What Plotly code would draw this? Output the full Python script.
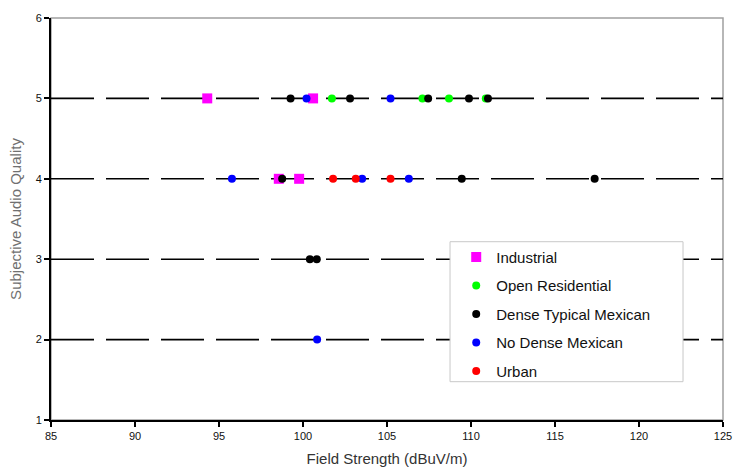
import plotly.graph_objects as go

# Field strength (dBuV/m) and subjective audio quality score per environment
industrial_x = [94.30, 100.60, 98.56, 99.77]
industrial_y = [5, 5, 4, 4]

open_res_x = [101.72, 107.11, 108.69, 110.88]
open_res_y = [5, 5, 5, 5]

dense_x = [99.26, 102.80, 107.45, 109.88, 111.01, 98.76, 109.45, 117.36, 100.41, 100.82]
dense_y = [5, 5, 5, 5, 5, 4, 4, 4, 3, 3]

no_dense_x = [100.21, 105.21, 95.77, 103.52, 106.30, 100.84]
no_dense_y = [5, 5, 4, 4, 4, 2]

urban_x = [101.79, 103.14, 105.21]
urban_y = [4, 4, 4]

# Reference levels drawn as long-dash lines across the field-strength range
quality_levels = [2, 3, 4, 5]
field_range = [85, 125]

x_ticks = [85, 90, 95, 100, 105, 110, 115, 120, 125]
y_ticks = [1, 2, 3, 4, 5, 6]

FONT = "Liberation Sans, Arial, sans-serif"

fig = go.Figure()

for level in quality_levels:
    fig.add_trace(go.Scatter(
        x=field_range, y=[level, level], mode="lines",
        line=dict(color="black", width=1.6, dash="43px,12px"),
        showlegend=False, hoverinfo="skip",
    ))

series = [
    ("Industrial", industrial_x, industrial_y, "#FF00FF", "square", 10),
    ("Open Residential", open_res_x, open_res_y, "#00FF00", "circle", 8),
    ("Dense Typical Mexican", dense_x, dense_y, "#000000", "circle", 8),
    ("No Dense Mexican", no_dense_x, no_dense_y, "#0000FF", "circle", 8),
    ("Urban", urban_x, urban_y, "#FF0000", "circle", 8),
]
for name, xs, ys, color, symbol, size in series:
    fig.add_trace(go.Scatter(
        x=xs, y=ys, mode="markers", name=name, legendgroup=name,
        marker=dict(color=color, symbol=symbol, size=size, line=dict(width=0)),
    ))

fig.update_layout(
    width=736, height=470,
    margin=dict(l=51, r=13, t=18, b=50, autoexpand=False),
    paper_bgcolor="white", plot_bgcolor="white",
    font=dict(family=FONT, color="#111111", size=11),
    showlegend=True,
    legend=dict(
        x=0.6030, y=0.4460, xanchor="left", yanchor="top",
        bgcolor="rgba(0,0,0,0)", borderwidth=0,
        font=dict(family=FONT, size=15, color="#111111"),
        tracegroupgap=6,
    ),
    shapes=[
        # plot-area frame (top and right edges in grey)
        dict(type="rect", xref="paper", yref="paper", x0=0, x1=1, y0=0, y1=1,
             line=dict(color="#A0A0A0", width=1.5), layer="below"),
        # legend box
        dict(type="rect", xref="paper", yref="paper",
             x0=0.5938, x1=0.9405, y0=0.0953, y1=0.4435,
             line=dict(color="#C8C8C8", width=1), fillcolor="white", layer="above"),
    ],
)

fig.update_xaxes(
    range=field_range, tickmode="array", tickvals=x_ticks,
    showline=True, linecolor="black", linewidth=2,
    ticks="outside", ticklen=5, tickcolor="black", tickwidth=1.5,
    showgrid=False, zeroline=False,
    tickfont=dict(size=11, color="#111111"),
    title=dict(text="Field Strength (dBuV/m)", font=dict(size=15, color="#333333"), standoff=12),
)
fig.update_yaxes(
    range=[1, 6], tickmode="array", tickvals=y_ticks,
    showline=True, linecolor="black", linewidth=2,
    ticks="outside", ticklen=5, tickcolor="black", tickwidth=1.5,
    showgrid=False, zeroline=False,
    tickfont=dict(size=11, color="#111111"),
    title=dict(text="Subjective Audio Quality", font=dict(size=15, color="#707070"), standoff=10),
)

fig.write_html("out.html")
